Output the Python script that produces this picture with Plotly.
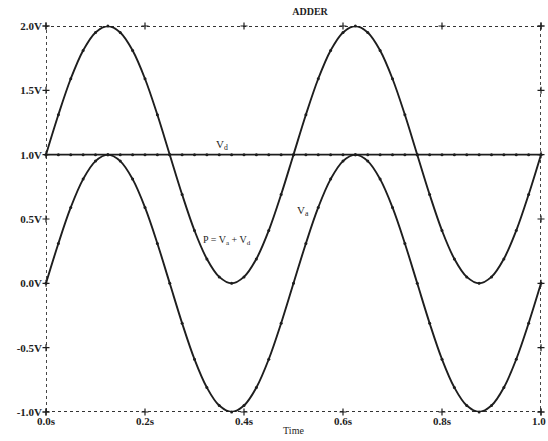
import plotly.graph_objects as go

# ---- data ----
time_s = [round(k * 0.025, 3) for k in range(41)]
va = [0.00, 0.31, 0.59, 0.81, 0.95, 1.00, 0.95, 0.81, 0.59, 0.31,
      0.00, -0.31, -0.59, -0.81, -0.95, -1.00, -0.95, -0.81, -0.59, -0.31,
      0.00, 0.31, 0.59, 0.81, 0.95, 1.00, 0.95, 0.81, 0.59, 0.31,
      0.00, -0.31, -0.59, -0.81, -0.95, -1.00, -0.95, -0.81, -0.59, -0.31,
      0.00]
vd = [1.00] * 41
p = [1.00, 1.31, 1.59, 1.81, 1.95, 2.00, 1.95, 1.81, 1.59, 1.31,
     1.00, 0.69, 0.41, 0.19, 0.05, 0.00, 0.05, 0.19, 0.41, 0.69,
     1.00, 1.31, 1.59, 1.81, 1.95, 2.00, 1.95, 1.81, 1.59, 1.31,
     1.00, 0.69, 0.41, 0.19, 0.05, 0.00, 0.05, 0.19, 0.41, 0.69,
     1.00]

x_tickvals = [0.0, 0.2, 0.4, 0.6, 0.8, 1.0]
x_ticktext = ["0.0s", "0.2s", "0.4s", "0.6s", "0.8s", "1.0"]
y_tickvals = [-1.0, -0.5, 0.0, 0.5, 1.0, 1.5, 2.0]
y_ticktext = ["-1.0V", "-0.5V", "0.0V", "0.5V", "1.0V", "1.5V", "2.0V"]

INK = "#1e1e1e"
FONT = "Liberation Serif"

fig = go.Figure()

for y in (p, vd, va):
    fig.add_trace(go.Scatter(
        x=time_s, y=y, mode="lines+markers", line_shape="spline",
        line=dict(color=INK, width=1.9),
        marker=dict(color=INK, size=3),
        showlegend=False, hoverinfo="skip", cliponaxis=False))

# frame tick crosses on all four sides
cx = x_tickvals + x_tickvals + [0.0] * len(y_tickvals) + [1.0] * len(y_tickvals)
cy = [-1.0] * len(x_tickvals) + [2.0] * len(x_tickvals) + y_tickvals + y_tickvals
fig.add_trace(go.Scatter(
    x=cx, y=cy, mode="markers",
    marker=dict(symbol="cross-thin", size=5, line=dict(color=INK, width=1.2)),
    showlegend=False, hoverinfo="skip", cliponaxis=False))

fig.add_shape(type="rect", xref="x", yref="y", x0=0, x1=1, y0=-1, y1=2,
              line=dict(color="#333333", width=1.8, dash="dot"), layer="below")

fig.add_annotation(x=0.355, y=1.0, xref="x", yref="y", text="V<sub>d</sub>",
                   showarrow=False, yanchor="bottom", yshift=1,
                   font=dict(family=FONT, size=11, color=INK))
fig.add_annotation(x=0.52, y=0.56, xref="x", yref="y", text="V<sub>a</sub>",
                   showarrow=False,
                   font=dict(family=FONT, size=11, color=INK))
fig.add_annotation(x=0.365, y=0.33, xref="x", yref="y",
                   text="P = V<sub>a</sub> + V<sub>d</sub>",
                   showarrow=False,
                   font=dict(family=FONT, size=10, color=INK))

# last x tick label pushed against the right edge, as in the reference
fig.add_annotation(x=x_tickvals[-1], y=0, xref="x", yref="paper",
                   text="<b>%s</b>" % x_ticktext[-1], showarrow=False,
                   xanchor="right", xshift=7, yanchor="top", yshift=-1,
                   font=dict(family=FONT, size=11, color=INK))

fig.update_layout(
    width=548, height=441,
    margin=dict(l=46, r=7, t=26, b=29),
    paper_bgcolor="white", plot_bgcolor="white",
    title=dict(text="<b>ADDER</b>", x=310 / 548, xanchor="center",
               y=1 - 11 / 441, yanchor="middle",
               font=dict(family=FONT, size=10, color=INK)),
    font=dict(family=FONT, color=INK),
)
fig.update_xaxes(range=[0, 1], showgrid=False, zeroline=False, showline=False,
                 tickvals=x_tickvals[:-1],
                 ticktext=["<b>%s</b>" % t for t in x_ticktext[:-1]],
                 ticks="", ticklabelstandoff=1, automargin=False,
                 tickfont=dict(family=FONT, size=11, color=INK),
                 title=dict(text="Time", standoff=0,
                            font=dict(family=FONT, size=10, color=INK)))
fig.update_yaxes(range=[-1, 2], showgrid=False, zeroline=False, showline=False,
                 tickvals=y_tickvals, ticktext=["<b>%s</b>" % t for t in y_ticktext],
                 ticks="", ticklabelstandoff=3, automargin=False,
                 ticklabeloverflow="allow",
                 tickfont=dict(family=FONT, size=11, color=INK))

fig.write_html("out.html")
